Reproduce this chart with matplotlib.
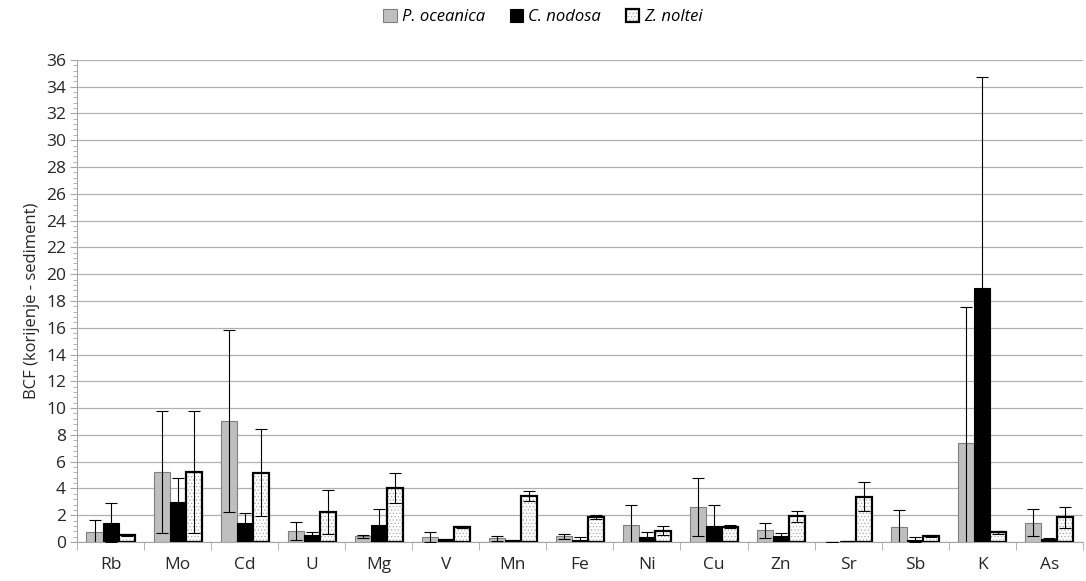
import numpy as np
import matplotlib
matplotlib.use("Agg")
import matplotlib.pyplot as plt
from matplotlib.ticker import MultipleLocator, FixedLocator
from matplotlib.legend_handler import HandlerTuple

# ─── Data ───────────────────────────────────────────────────────────────────
ELEMENTS = ["Rb", "Mo", "Cd", "U", "Mg", "V", "Mn", "Fe", "Ni", "Cu", "Zn", "Sr", "Sb", "K", "As"]
SPECIES = ["P. oceanica", "C. nodosa", "Z. noltei"]

P_MEAN = [0.77, 5.21, 9.06, 0.84, 0.42, 0.40, 0.27, 0.42, 1.26, 2.62, 0.89, 0.02, 1.14, 7.38, 1.46]
P_SD   = [0.88, 4.55, 6.80, 0.69, 0.12, 0.37, 0.22, 0.22, 1.48, 2.20, 0.57, 0.00, 1.28, 10.2, 0.98]
C_MEAN = [1.46, 3.01, 1.41, 0.52, 1.26, 0.20, 0.12, 0.12, 0.35, 1.21, 0.44, 0.08, 0.17, 18.95, 0.20]
C_SD   = [1.48, 1.78, 0.74, 0.22, 1.18, 0.03, 0.01, 0.23, 0.42, 1.58, 0.25, 0.01, 0.20, 15.75, 0.12]
Z_MEAN = [0.55, 5.21, 5.19, 2.22, 4.02, 1.14, 3.46, 1.88, 0.86, 1.14, 1.93, 3.38, 0.44, 0.74, 1.85]
Z_SD   = [0.08, 4.55, 3.25, 1.65, 1.14, 0.07, 0.39, 0.17, 0.33, 0.10, 0.42, 1.09, 0.08, 0.12, 0.77]

Y_TICKS = list(range(0, 37, 2))

# ─── Style ──────────────────────────────────────────────────────────────────
FONT = "Open Sans"
GRID_CLR = "#B0B0B0"
AXIS_CLR = "#A6A6A6"
TXT_CLR = "#262626"
P_FILL = "#BFBFBF"
P_EDGE = "#7F7F7F"
DOT_CLR = "#A8A8A8"

plt.rcParams["font.family"] = [FONT, "DejaVu Sans"]
plt.rcParams["hatch.linewidth"] = 0.5

fig = plt.figure(figsize=(10.86, 5.81), dpi=100)
ax = fig.add_axes([0.071, 0.067, 0.926, 0.830])

x = np.arange(len(ELEMENTS))
w = 0.24
err_kw = dict(ecolor="#000000", elinewidth=0.8, capsize=4, capthick=0.8)

b1 = ax.bar(x - w, P_MEAN, w, yerr=P_SD, color=P_FILL, edgecolor=P_EDGE,
            linewidth=0.8, error_kw=err_kw, zorder=3)
b2 = ax.bar(x, C_MEAN, w, yerr=C_SD, color="#000000", edgecolor="#000000",
            linewidth=0.8, error_kw=err_kw, zorder=3)
# Z. noltei: light stipple underneath, black outline on top
b3h = ax.bar(x + w, Z_MEAN, w, color="#FFFFFF", edgecolor=DOT_CLR,
             linewidth=0, hatch=".....", zorder=3)
b3 = ax.bar(x + w, Z_MEAN, w, yerr=Z_SD, fill=False, edgecolor="#000000",
            linewidth=1.6, error_kw=err_kw, zorder=3.5)

# ─── Axes ───────────────────────────────────────────────────────────────────
ax.set_xlim(-0.5, len(ELEMENTS) - 0.5)
ax.set_ylim(0, 36)
ax.set_yticks(Y_TICKS)
ax.yaxis.set_minor_locator(MultipleLocator(0.4))
ax.grid(axis="y", color=GRID_CLR, linewidth=0.9, zorder=0)
ax.set_axisbelow(True)

for s in ["top", "right"]:
    ax.spines[s].set_visible(False)
ax.spines["left"].set_color(AXIS_CLR)
ax.spines["bottom"].set_color(AXIS_CLR)

ax.tick_params(axis="y", which="major", length=5, color=AXIS_CLR,
               labelsize=12.5, labelcolor=TXT_CLR, pad=3)
ax.tick_params(axis="y", which="minor", length=3, color=AXIS_CLR)

ax.set_xticks(x)
ax.set_xticklabels(ELEMENTS)
ax.tick_params(axis="x", which="major", length=0, labelsize=12.5,
               labelcolor=TXT_CLR, pad=11)
ax.xaxis.set_minor_locator(FixedLocator(np.arange(-0.5, len(ELEMENTS), 1.0)))
ax.tick_params(axis="x", which="minor", length=6, color=AXIS_CLR)

ax.set_ylabel("BCF (korijenje - sediment)", fontsize=12, color=TXT_CLR, labelpad=4)

# ─── Legend ─────────────────────────────────────────────────────────────────
leg = fig.legend(handles=[b1, b2, (b3h, b3.patches[0])], labels=SPECIES,
                 loc="upper center", ncol=3,
                 bbox_to_anchor=(0.5, 1.01), frameon=False,
                 prop=dict(family=FONT, style="italic", size=12),
                 handler_map={tuple: HandlerTuple(ndivide=1, pad=0)},
                 handlelength=0.8, handleheight=0.8, handletextpad=0.3,
                 columnspacing=1.5)

fig.savefig("out.png", dpi=100, facecolor="white")
